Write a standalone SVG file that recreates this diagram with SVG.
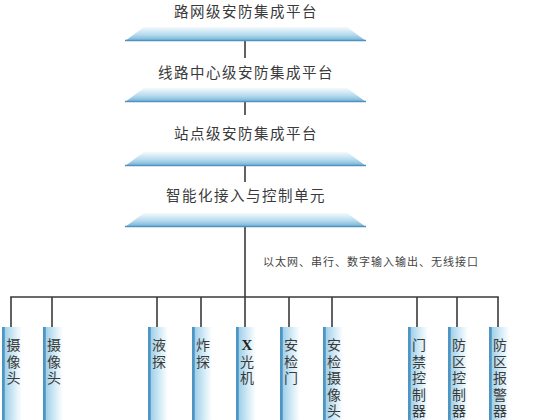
<svg xmlns="http://www.w3.org/2000/svg" width="538" height="420" viewBox="0 0 538 420">
<defs>
<linearGradient id="plat" x1="0" y1="0" x2="0" y2="1">
<stop offset="0" stop-color="#f4fafd"/>
<stop offset="0.55" stop-color="#b6dbee"/>
<stop offset="1" stop-color="#6fb0d6"/>
</linearGradient>
<linearGradient id="bar" x1="0" y1="0" x2="1" y2="0">
<stop offset="0" stop-color="#4d95c4"/>
<stop offset="0.12" stop-color="#4d95c4"/>
<stop offset="0.14" stop-color="#9fd0e9"/>
<stop offset="0.6" stop-color="#d4ebf6"/>
<stop offset="1" stop-color="#ffffff"/>
</linearGradient>
</defs>
<style>
.plat{fill:url(#plat)}
.edge{stroke:#4f93c0;stroke-width:1.5;fill:none}
.bar{fill:url(#bar)}
.ln{stroke:#3a3a3a;stroke-width:1.6;fill:none}
.t{font-family:"Noto Sans CJK SC","Noto Sans",sans-serif;font-size:14.5px;fill:#3a3a3a;letter-spacing:1.5px;text-anchor:middle}
.v{font-family:"Noto Sans CJK SC","Noto Sans",sans-serif;font-size:14px;fill:#3a3a3a;text-anchor:middle}
.x{font-family:"Liberation Serif",serif;font-weight:bold;font-size:15px;fill:#222;text-anchor:middle}
.lbl{font-family:"Noto Sans CJK SC","Noto Sans",sans-serif;font-size:11px;fill:#444;letter-spacing:1px}
</style>
<rect width="538" height="420" fill="#ffffff"/>

<g id="connectors">
<line class="ln" x1="245" y1="41" x2="245" y2="58"/>
<line class="ln" x1="245" y1="102" x2="245" y2="115"/>
<line class="ln" x1="245" y1="166" x2="245" y2="182"/>
<line class="ln" x1="245" y1="227" x2="245" y2="327"/>
<line class="ln" x1="10.2" y1="297" x2="498.8" y2="297"/>
<line class="ln" x1="11" y1="297" x2="11" y2="327"/>
<line class="ln" x1="52" y1="297" x2="52" y2="327"/>
<line class="ln" x1="157" y1="297" x2="157" y2="327"/>
<line class="ln" x1="201" y1="297" x2="201" y2="327"/>
<line class="ln" x1="289" y1="297" x2="289" y2="327"/>
<line class="ln" x1="332" y1="297" x2="332" y2="327"/>
<line class="ln" x1="417" y1="297" x2="417" y2="327"/>
<line class="ln" x1="457" y1="297" x2="457" y2="327"/>
<line class="ln" x1="498" y1="297" x2="498" y2="327"/>
<text class="lbl" x="263" y="266">以太网、串行、数字输入输出、无线接口</text>
</g>

<g id="node-luwang">
<text class="t" x="246" y="17">路网级安防集成平台</text>
<polygon class="plat" points="144,27 347,27 366,41 125,41"/>
<line class="edge" x1="125" y1="40.5" x2="366" y2="40.5"/>
</g>
<g id="node-xianlu">
<text class="t" x="246" y="78">线路中心级安防集成平台</text>
<polygon class="plat" points="144,88 347,88 366,102 125,102"/>
<line class="edge" x1="125" y1="101.5" x2="366" y2="101.5"/>
</g>
<g id="node-zhandian">
<text class="t" x="246" y="139">站点级安防集成平台</text>
<polygon class="plat" points="144,152 347,152 366,166 125,166"/>
<line class="edge" x1="125" y1="165.5" x2="366" y2="165.5"/>
</g>
<g id="node-zhineng">
<text class="t" x="246" y="201">智能化接入与控制单元</text>
<polygon class="plat" points="144,213 347,213 366,227 125,227"/>
<line class="edge" x1="125" y1="226.5" x2="366" y2="226.5"/>
</g>

<g id="dev-cam1">
<rect class="bar" x="2" y="327" width="20" height="93"/>
<text class="v" x="13.5" y="350">摄</text><text class="v" x="13.5" y="366.5">像</text><text class="v" x="13.5" y="383">头</text>
</g>
<g id="dev-cam2">
<rect class="bar" x="43" y="327" width="20" height="93"/>
<text class="v" x="54" y="350">摄</text><text class="v" x="54" y="366.5">像</text><text class="v" x="54" y="383">头</text>
</g>
<g id="dev-liquid">
<rect class="bar" x="148" y="327" width="20" height="93"/>
<text class="v" x="159" y="350">液</text><text class="v" x="159" y="366.5">探</text>
</g>
<g id="dev-explosive">
<rect class="bar" x="192" y="327" width="20" height="93"/>
<text class="v" x="203" y="350">炸</text><text class="v" x="203" y="366.5">探</text>
</g>
<g id="dev-xray">
<rect class="bar" x="236" y="327" width="20" height="93"/>
<text class="x" x="247" y="350">X</text><text class="v" x="247" y="366.5">光</text><text class="v" x="247" y="383">机</text>
</g>
<g id="dev-gate">
<rect class="bar" x="280" y="327" width="20" height="93"/>
<text class="v" x="291" y="350">安</text><text class="v" x="291" y="366.5">检</text><text class="v" x="291" y="383">门</text>
</g>
<g id="dev-seccam">
<rect class="bar" x="323" y="327" width="20" height="93"/>
<text class="v" x="334" y="350">安</text><text class="v" x="334" y="366.5">检</text><text class="v" x="334" y="383">摄</text><text class="v" x="334" y="399.5">像</text><text class="v" x="334" y="416">头</text>
</g>
<g id="dev-door">
<rect class="bar" x="408" y="327" width="20" height="93"/>
<text class="v" x="419" y="350">门</text><text class="v" x="419" y="366.5">禁</text><text class="v" x="419" y="383">控</text><text class="v" x="419" y="399.5">制</text><text class="v" x="419" y="416">器</text>
</g>
<g id="dev-zonectl">
<rect class="bar" x="448" y="327" width="20" height="93"/>
<text class="v" x="459" y="350">防</text><text class="v" x="459" y="366.5">区</text><text class="v" x="459" y="383">控</text><text class="v" x="459" y="399.5">制</text><text class="v" x="459" y="416">器</text>
</g>
<g id="dev-alarm">
<rect class="bar" x="489" y="327" width="20" height="93"/>
<text class="v" x="500" y="350">防</text><text class="v" x="500" y="366.5">区</text><text class="v" x="500" y="383">报</text><text class="v" x="500" y="399.5">警</text><text class="v" x="500" y="416">器</text>
</g>
</svg>
